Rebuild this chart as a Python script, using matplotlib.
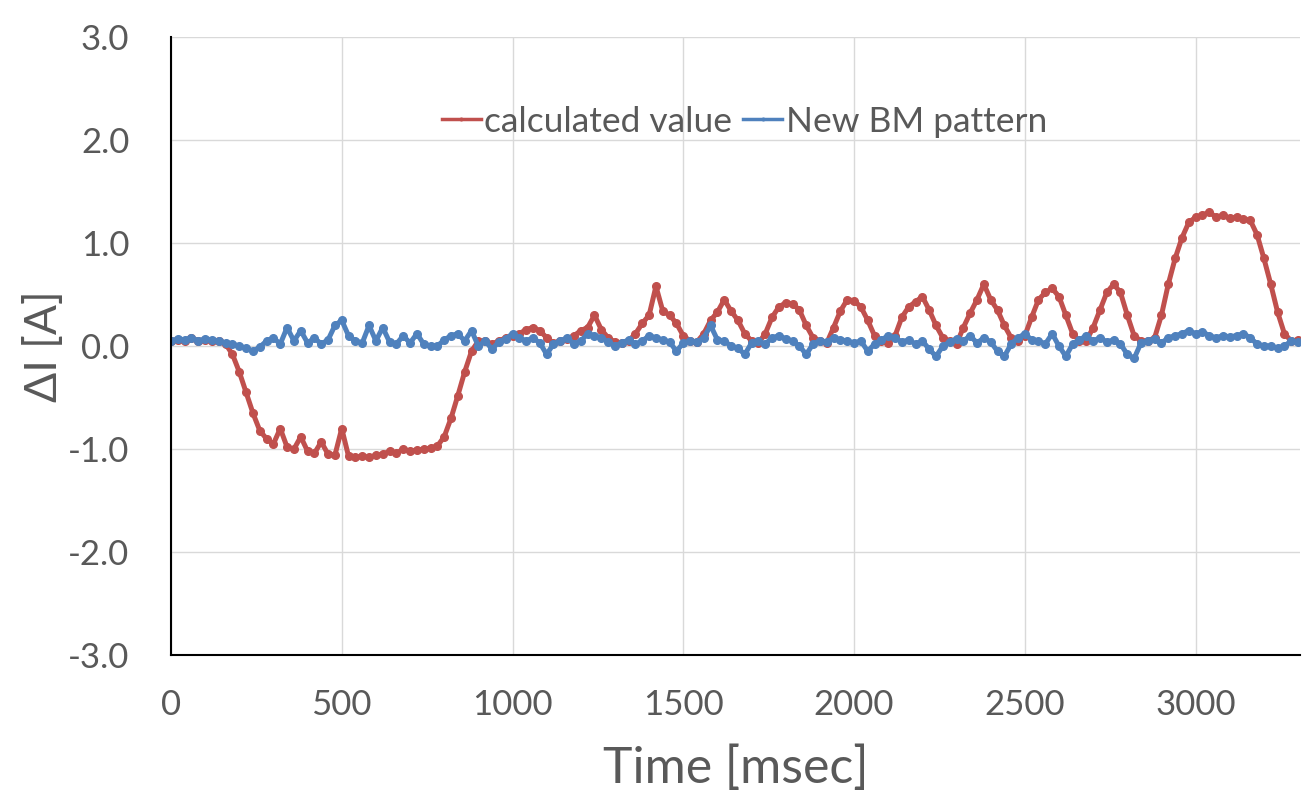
import matplotlib
matplotlib.use("Agg")
import matplotlib.pyplot as plt
import numpy as np

plt.rcParams['font.family'] = ['Lato', 'DejaVu Sans']
plt.rcParams['axes.unicode_minus'] = False

# sampled every 20 ms, 0 .. 3300
time_ms = np.arange(0, 3301, 20)

calculated = [
    0.05, 0.06, 0.05, 0.08, 0.05, 0.06, 0.05, 0.05, 0.02, -0.08,
    -0.25, -0.45, -0.65, -0.82, -0.90, -0.95, -0.80, -0.98, -1.00, -0.88,
    -1.02, -1.04, -0.93, -1.05, -1.06, -0.80, -1.07, -1.08, -1.07, -1.08,
    -1.06, -1.05, -1.02, -1.04, -1.00, -1.02, -1.01, -1.00, -0.99, -0.97,
    -0.88, -0.70, -0.48, -0.25, -0.05, 0.05, 0.05, 0.02, 0.05, 0.08,
    0.10, 0.12, 0.16, 0.18, 0.15, 0.08, 0.03, 0.05, 0.07, 0.10,
    0.15, 0.18, 0.30, 0.16, 0.08, 0.04, 0.03, 0.05, 0.12, 0.22,
    0.30, 0.58, 0.34, 0.30, 0.22, 0.10, 0.05, 0.04, 0.12, 0.25,
    0.33, 0.45, 0.34, 0.25, 0.12, 0.05, 0.03, 0.12, 0.28, 0.38,
    0.42, 0.41, 0.35, 0.20, 0.08, 0.05, 0.03, 0.18, 0.34, 0.45,
    0.44, 0.38, 0.25, 0.10, 0.05, 0.03, 0.10, 0.28, 0.38, 0.43,
    0.48, 0.35, 0.20, 0.08, 0.05, 0.02, 0.18, 0.32, 0.45, 0.60,
    0.45, 0.35, 0.20, 0.08, 0.05, 0.10, 0.28, 0.45, 0.52, 0.56,
    0.48, 0.30, 0.12, 0.05, 0.05, 0.18, 0.35, 0.52, 0.60, 0.52,
    0.30, 0.10, 0.05, 0.05, 0.08, 0.30, 0.60, 0.85, 1.05, 1.20,
    1.25, 1.27, 1.30, 1.25, 1.27, 1.24, 1.25, 1.23, 1.22, 1.08,
    0.85, 0.60, 0.33, 0.12, 0.05, 0.06,
]

new_bm = [
    0.05, 0.07, 0.06, 0.08, 0.05, 0.07, 0.06, 0.05, 0.03, 0.02,
    0.00, -0.02, -0.05, -0.01, 0.05, 0.08, 0.02, 0.18, 0.05, 0.15,
    0.03, 0.08, 0.02, 0.06, 0.20, 0.25, 0.10, 0.05, 0.03, 0.20,
    0.05, 0.18, 0.04, 0.02, 0.10, 0.03, 0.12, 0.02, 0.00, 0.00,
    0.06, 0.10, 0.12, 0.05, 0.15, 0.00, 0.05, -0.03, 0.04, 0.07,
    0.12, 0.08, 0.05, 0.08, 0.03, -0.08, 0.02, 0.05, 0.08, 0.02,
    0.05, 0.12, 0.10, 0.08, 0.04, 0.00, 0.03, 0.06, 0.02, 0.05,
    0.10, 0.08, 0.06, 0.04, -0.05, 0.03, 0.05, 0.04, 0.08, 0.20,
    0.06, 0.05, 0.00, -0.02, -0.08, 0.03, 0.05, 0.02, 0.08, 0.10,
    0.07, 0.05, 0.00, -0.08, 0.02, 0.05, 0.04, 0.08, 0.06, 0.05,
    0.03, 0.05, -0.05, 0.02, 0.06, 0.10, 0.08, 0.04, 0.06, 0.02,
    0.05, -0.03, -0.10, 0.00, 0.04, 0.07, 0.05, 0.10, 0.03, 0.08,
    0.04, -0.05, -0.10, 0.02, 0.08, 0.12, 0.06, 0.05, 0.02, 0.12,
    0.00, -0.10, 0.02, 0.06, 0.10, 0.05, 0.08, 0.04, 0.06, 0.02,
    -0.08, -0.12, 0.03, 0.05, 0.07, 0.03, 0.08, 0.10, 0.12, 0.15,
    0.12, 0.14, 0.10, 0.08, 0.10, 0.09, 0.10, 0.12, 0.08, 0.02,
    0.00, 0.00, -0.02, 0.00, 0.05, 0.04,
]

RED = "#C0504D"
BLUE = "#4F81BD"
TXT = "#595959"

fig = plt.figure(figsize=(13.05, 8.02), dpi=100)
ax = fig.add_axes([0.131, 0.183, 0.865, 0.771])

ax.plot(time_ms, calculated, color=RED, lw=3.6, marker="o", ms=5.5,
        label="calculated value")
ax.plot(time_ms, new_bm, color=BLUE, lw=3.6, marker="o", ms=5.5,
        label="New BM pattern")

ax.set_xlim(0, 3305)
ax.set_ylim(-3, 3)
ax.set_xticks(np.arange(0, 3001, 500))
ax.set_yticks(np.arange(-3, 3.01, 1.0))
ax.set_yticklabels([f"{v:.1f}" for v in np.arange(-3, 3.01, 1.0)])
ax.grid(True, color="#d9d9d9", lw=1)
ax.set_axisbelow(True)

for s in ["top", "right"]:
    ax.spines[s].set_visible(False)
for s in ["left", "bottom"]:
    ax.spines[s].set_color("black")
    ax.spines[s].set_linewidth(1.5)

ax.tick_params(axis="y", length=0, pad=30, labelsize=25, labelcolor=TXT)
ax.tick_params(axis="x", length=0, pad=24, labelsize=25, labelcolor=TXT)

ax.set_xlabel("Time [msec]", fontsize=36, color=TXT, labelpad=18)
ax.set_ylabel("ΔI [A]", fontsize=32, color=TXT, labelpad=2)

leg = ax.legend(loc="upper center", bbox_to_anchor=(0.508, 0.94), ncol=2,
                frameon=False, fontsize=25.5, handlelength=1.1,
                handletextpad=0.1, columnspacing=0.3, markerscale=0.35)
for line in leg.get_lines():
    line.set_linewidth(2.5)
for t in leg.get_texts():
    t.set_color(TXT)

fig.savefig("out.png", dpi=100)
